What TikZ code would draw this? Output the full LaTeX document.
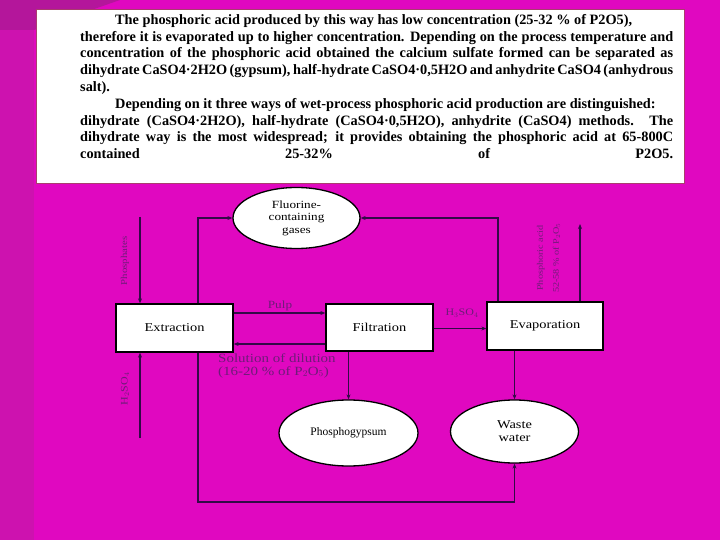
\documentclass[tikz,border=0pt]{standalone}
\usepackage{fontspec}
\setmainfont{Liberation Serif}
\newfontfamily\diagfont[FakeStretch=1.2]{Liberation Serif}
\usetikzlibrary{shapes.geometric,arrows.meta}
\definecolor{bgmag}{RGB}{224,8,192}
\definecolor{bgdark}{RGB}{205,18,175}
\definecolor{bgcorner}{RGB}{180,22,155}
\definecolor{boxedge}{RGB}{170,60,110}
\definecolor{lblc}{RGB}{110,28,120}
\definecolor{linec}{RGB}{50,10,70}
\tikzset{
  procbox/.style={draw=black,fill=white,line width=1.3pt,rectangle,inner sep=0pt,font=\diagfont\fontsize{12}{14}\selectfont},
  oval/.style={draw=black,fill=white,line width=1.3pt,ellipse,inner sep=0pt,align=center,font=\diagfont\fontsize{11}{12.5}\selectfont},
  conn/.style={draw=linec,line width=1.1pt,-{Stealth[length=5pt,width=4pt]}},
  lbl/.style={text=lblc,inner sep=0pt,font=\diagfont\fontsize{11}{13}\selectfont},
  txtline/.style={anchor=base west,inner sep=0pt,font=\bfseries\fontsize{14.3}{16}\selectfont}
}
\begin{document}
\begin{tikzpicture}[x=1pt,y=-1pt]
\useasboundingbox (0,0) rectangle (720,540);
\fill[bgmag] (0,0) rectangle (720,540);
\fill[bgdark] (0,0) -- (34,0) -- (34,540) -- (0,540) -- cycle;
\fill[bgcorner] (0,0) -- (120,0) -- (34,30) -- (0,30) -- cycle;
% text panel
\node[draw=boxedge,fill=white,line width=1.5pt,rectangle,minimum width=648pt,minimum height=174pt,inner sep=0pt] (panel) at (360.5,96.5) {};
\node[txtline] (l1) at (115,24.5) {The phosphoric acid produced by this way has low concentration (25-32 \% of P2O5),};
\node[txtline] (l2) at (80,41.3) {\makebox[593pt][s]{therefore it is evaporated up to higher concentration. Depending on the process temperature and}};
\node[txtline] (l3) at (80,58) {\makebox[593pt][s]{concentration of the phosphoric acid obtained the calcium sulfate formed can be separated as}};
\node[txtline] (l4) at (80,74.8) {\makebox[593pt][s]{dihydrate CaSO4·2H2O (gypsum), half-hydrate CaSO4·0,5H2O and anhydrite CaSO4 (anhydrous}};
\node[txtline] (l5) at (80,91.5) {salt).};
\node[txtline] (l6) at (115,108.5) {Depending on it three ways of wet-process phosphoric acid production are distinguished:};
\node[txtline] (l7) at (80,125.2) {\makebox[593pt][s]{dihydrate (CaSO4·2H2O), half-hydrate (CaSO4·0,5H2O), anhydrite (CaSO4) methods. The}};
\node[txtline] (l8) at (80,142) {\makebox[593pt][s]{dihydrate way is the most widespread; it provides obtaining the phosphoric acid at 65-800C}};
\node[txtline] (l9) at (80,158.7) {\makebox[593pt][s]{contained \hspace{120pt} 25-32\% \hspace{120pt} of \hspace{120pt} P2O5.}};
% process nodes
\node[procbox,minimum width=117pt,minimum height=48pt] (ext) at (174.5,328) {Extraction};
\node[procbox,minimum width=107pt,minimum height=47pt] (fil) at (379.5,327.5) {Filtration};
\node[procbox,minimum width=116pt,minimum height=48pt] (eva) at (545,326) {Evaporation};
\node[oval,minimum width=127pt,minimum height=61pt] (flu) at (296.5,218) {Fluorine-\\containing\\gases};
\node[oval,minimum width=139pt,minimum height=66pt,font=\fontsize{11.5}{13}\selectfont] (pho) at (348.5,433) {Phosphogypsum};
\node[oval,minimum width=128pt,minimum height=63pt,font=\diagfont\fontsize{12}{13}\selectfont] (was) at (514.5,431.5) {Waste\\water};
% helper coordinates
\coordinate (p1) at (140,217);
\coordinate (h1) at (140,438);
\coordinate (c1) at (198,217);
\coordinate (c2) at (498,218);
\coordinate (pa) at (580,224);
\coordinate (pulpy) at (0,313);
\coordinate (soly) at (0,344);
\coordinate (hy) at (0,328.5);
\coordinate (boty) at (0,502);
% connectors
\draw[conn] (p1) -- (p1 |- ext.north);
\draw[conn] (h1) -- (h1 |- ext.south);
\draw[conn] (ext.north -| c1) |- (flu.west);
\draw[conn] (eva.north -| c2) |- (flu.east);
\draw[conn] (ext.east |- pulpy) -- (fil.west |- pulpy);
\draw[conn] (fil.west |- soly) -- (ext.east |- soly);
\draw[conn] (fil.east |- hy) -- (eva.west |- hy);
\draw[conn] (eva.north -| pa) -- (pa);
\draw[conn] (fil.south -| pho.north) -- (pho.north);
\draw[conn] (eva.south -| was.north) -- (was.north);
\draw[conn] (ext.south -| c1) |- (was.south |- boty) -- (was.south);
% labels
\node[lbl,rotate=90,font=\diagfont\fontsize{9}{11}\selectfont] (lphos) at (125,261) {Phosphates};
\node[lbl,rotate=90,font=\diagfont\fontsize{10}{12}\selectfont] (lh2so4) at (125,389) {H$_2$SO$_4$};
\node[lbl,rotate=90,align=center,font=\diagfont\fontsize{8.5}{16}\selectfont] (lacid) at (548.5,258) {Phosphoric acid\\52-58 \% of P$_2$O$_5$};
\node[lbl] (lpulp) at (280,306) {Pulp};
\node[lbl,anchor=west,align=left,font=\diagfont\fontsize{12.5}{13}\selectfont] (lsol) at (218,365.5) {Solution of dilution\\(16-20 \% of P$_2$O$_5$)};
\node[lbl,font=\diagfont\fontsize{10}{12}\selectfont] (lh3) at (462,313) {H$_3$SO$_4$};
\end{tikzpicture}
\end{document}
